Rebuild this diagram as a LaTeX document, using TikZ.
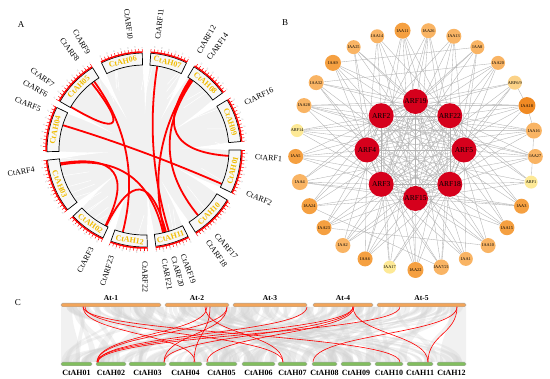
\documentclass[tikz,border=0pt]{standalone}
\usepackage{fontspec}
\setmainfont{Liberation Serif}
\usetikzlibrary{calc,backgrounds}
\definecolor{ahyellow}{RGB}{240,188,0}
\definecolor{linkred}{RGB}{255,0,0}
\definecolor{arfred}{RGB}{214,0,28}
\definecolor{oA}{RGB}{249,180,100}
\definecolor{oB}{RGB}{245,160,65}
\definecolor{oC}{RGB}{240,138,35}
\definecolor{oP}{RGB}{253,233,150}
\definecolor{oQ}{RGB}{251,210,135}
\definecolor{atorange}{RGB}{242,165,90}
\definecolor{ahgreen}{RGB}{130,190,95}
\newcommand\slsh{/}
\tikzset{
 boxst/.style={draw=black,line width=0.7pt,fill=gray!6},
 ahlab/.style={text=ahyellow,font=\bfseries\fontsize{8}{8}\selectfont,inner sep=0},
 tickln/.style={linkred,line width=0.5pt},
 ticklab/.style={text=gray!75,font=\fontsize{2}{2}\selectfont,inner sep=0,anchor=west},
 arflab/.style={font=\fontsize{8}{8}\selectfont,inner sep=0},
 redlink/.style={linkred,line width=1.8pt},
 arfnode/.style={circle,fill=arfred,minimum size=25pt,inner sep=0,font=\fontsize{7.5}{7.5}\selectfont},
 iaanode/.style={circle,inner sep=0,font=\fontsize{4.3}{4.3}\selectfont},
 netedge/.style={gray!60,line width=0.35pt},
 atbar/.style={fill=atorange,draw=gray!70,line width=0.4pt,rounded corners=1.5pt},
 ahbar/.style={fill=ahgreen,draw=gray!70,line width=0.4pt,rounded corners=1.5pt},
 atlab/.style={font=\bfseries\fontsize{7.5}{7.5}\selectfont,inner sep=0},
 ahblab/.style={font=\bfseries\fontsize{8}{8}\selectfont,inner sep=0},
 synred/.style={linkred,line width=0.6pt},
 ribbon/.style={fill=gray!35,fill opacity=0.3},
 panlab/.style={font=\fontsize{9}{9}\selectfont,inner sep=0},
}
% chromosome block: start angle, end angle, label, label rotation
\newcommand\chrblock[4]{%
  \draw[boxst] (#1:85) arc[start angle=#1,end angle=#2,radius=85] -- (#2:97) arc[start angle=#2,end angle=#1,radius=97] -- cycle;
  \draw[linkred,line width=1.5pt] (#1:98) arc[start angle=#1,end angle=#2,radius=98];
  \pgfmathsetmacro\chrnext{#1+2}%
  \foreach \tka in {#1,\chrnext,...,#2}{%
    \draw[tickln] (\tka:97.8) -- (\tka:101.2);
  }%
  \pgfmathsetmacro\chrnextb{#1+4}%
  \foreach \tka [count=\tkn from 0] in {#1,\chrnextb,...,#2}{%
    \pgfmathtruncatemacro\tknum{\tkn*10}%
    \node[ticklab,rotate=\tka] at (\tka:101.8) {\tknum};
  }%
  \node[ahlab,rotate=#4] at ({(#1+#2)/2}:91) {#3};
}
\newcommand\arfR[2]{\node[arflab,rotate=#1,anchor=west] at (#1:111) {#2};}
\newcommand\arfL[2]{\node[arflab,rotate=#1+180,anchor=east] at (#1:111) {#2};}
\newcommand\clink[2]{\draw[redlink] (#1:85) .. controls (#1:28.3) and (#2:28.3) .. (#2:85);}
\begin{document}
\begin{tikzpicture}[x=1pt,y=-1pt]
\useasboundingbox (0,0) rectangle (550,379);
\begin{pgfonlayer}{background}\fill[white] (0,0) rectangle (550,379);\end{pgfonlayer}
\node[panlab] (labA) at (21,25) {A};
\node[panlab] (labB) at (285,23) {B};
\node[panlab] (labC) at (18,303) {C};

% ---------------- Panel A ----------------
\begin{scope}[shift={(144,150)},y=1pt]
\fill[gray!11] (0,0) circle[radius=85];
\foreach \g in {2.5,33.5,61.5,88.5,119,152,183.5,220.5,247.5,274.5,299.5,331.5}{
  \fill[white] (\g-2.6:85.5) .. controls (\g-1:62) .. (\g:36) .. controls (\g+1:62) .. (\g+2.6:85.5) -- cycle;
}
\pgfmathsetseed{11}
\foreach \r in {1,...,40}{
  \pgfmathsetmacro\wa{rnd*360}
  \pgfmathsetmacro\wl{55+rnd*20}
  \draw[white,line width=0.5pt] (\wa:84) -- (\wa+4:\wl);
}
\clink{128}{149.5}
\clink{126}{255.5}
\clink{163}{336.4}
\clink{189}{243}
\clink{190}{283}
\clink{243.5}{285}
\clink{81}{287}
\clink{57}{356}
\clink{55}{309.6}
\clink{56}{284}
\chrblock{334}{360}{CtAH01}{77}
\chrblock{5}{31}{CtAH09}{-72}
\chrblock{36}{59}{CtAH08}{-42.5}
\chrblock{64}{86}{CtAH07}{-15}
\chrblock{91}{116}{CtAH06}{13.5}
\chrblock{122}{150}{CtAH05}{46}
\chrblock{154}{181}{CtAH04}{77.5}
\chrblock{186}{218}{CtAH03}{-68}
\chrblock{223}{245}{CtAH02}{-36}
\chrblock{250}{272}{CtAH12}{-9}
\chrblock{277}{297}{CtAH11}{17}
\chrblock{302}{329}{CtAH10}{45.5}
\arfR{83}{CtARF11}
\arfR{60.5}{CtARF12}
\arfR{54.5}{CtARF14}
\arfR{25}{CtARF16}
\arfR{-3.6}{CtARF1}
\arfR{-22.7}{CtARF2}
\arfR{-49.5}{CtARF17}
\arfR{-55}{CtARF18}
\arfR{-69.5}{CtARF19}
\arfR{-74.5}{CtARF20}
\arfR{-79.5}{CtARF21}
\arfR{-89.5}{CtARF22}
\arfL{97}{CtARF10}
\arfL{120}{CtARF9}
\arfL{126.5}{CtARF8}
\arfL{144.5}{CtARF7}
\arfL{150.5}{CtARF6}
\arfL{158.6}{CtARF5}
\arfL{190}{CtARF4}
\arfL{242}{CtARF3}
\arfL{253}{CtARF23}
\end{scope}

% ---------------- Panel B ----------------
\begin{scope}[shift={(415.5,150)},y=1pt]
\foreach \ang/\lab [count=\i from 0] in {90/ARF19,45/ARF22,0/ARF5,-45/ARF18,-90/ARF15,-135/ARF3,180/ARF4,135/ARF2}
  \node[arfnode] (i\i) at (\ang:48.5) {\lab};
\foreach \lab/\col/\sz [count=\k from 0] in {IAA11/oB/16,IAA26/oA/15,IAA13/oA/15,IAA8/oA/14,IAA20/oA/14,ARF6\slsh9/oQ/14,IAA18/oC/17,IAA16/oA/16,IAA27/oA/15,ARF1/oP/13,IAA3/oB/15,IAA15/oB/15,IAA10/oA/15,IAA1/oA/14,IAA7\slsh21/oA/14,IAA22/oB/16,IAA17/oP/13,IAA6/oB/15,IAA2/oA/15,IAA23/oB/15,IAA24/oB/16,IAA4/oA/16,IAA5/oB/15,ARF14/oP/13,IAA28/oA/15,IAA32/oA/15,IAA9/oB/16,IAA25/oA/14,IAA14/oA/14}{
  \pgfmathsetmacro\oang{96.2-12.414*\k}
  \node[iaanode,fill=\col,minimum size=\sz pt] (o\k) at (\oang:120) {\lab};
}
\end{scope}
\begin{pgfonlayer}{background}
\foreach \a in {0,...,6}{
  \pgfmathtruncatemacro\bs{\a+1}
  \foreach \b in {\bs,...,7}{\draw[netedge] (i\a) -- (i\b);}
}
\foreach \k in {0,...,28}{
  \foreach \d in {0,2,3,5,7}{
    \pgfmathtruncatemacro\j{mod(\k+\d,8)}
    \draw[netedge] (o\k) -- (i\j);
  }
}
\foreach \p/\q in {5/6,6/7,7/9,24/6,23/7,22/8,21/10,4/25,1/17,3/26,12/19,14/20,0/15,8/24}
  \draw[netedge] (o\p) -- (o\q);
\end{pgfonlayer}

% ---------------- Panel C ----------------
\pgfmathsetseed{5}
\foreach \r in {1,...,140}{
  \pgfmathsetmacro\ta{61+rnd*398}
  \pgfmathsetmacro\tw{2+rnd*7}
  \pgfmathsetmacro\ba{61+rnd*398}
  \pgfmathsetmacro\bw{2+rnd*7}
  \fill[ribbon] (\ta,307) .. controls (\ta,334) and (\ba,334) .. (\ba,362) -- ({\ba+\bw},362) .. controls ({\ba+\bw},334) and ({\ta+\tw},334) .. ({\ta+\tw},307) -- cycle;
}
\fill[ribbon] (61,307) .. controls (61,334) and (61,334) .. (61,362) -- (80,362) .. controls (80,334) and (72,334) .. (72,307) -- cycle;
\fill[ribbon] (450,307) .. controls (450,334) and (440,334) .. (440,362) -- (466,362) .. controls (466,334) and (466,334) .. (466,307) -- cycle;
\foreach \a/\b/\lab [count=\n] in {61/161/At-1,165/229/At-2,233/307/At-3,313/373/At-4,377/466/At-5}{
  \draw[atbar] (\a,303.2) rectangle (\b,306.8);
  \node[atlab] (atl\n) at ({(\a+\b)/2},298.5) {\lab};
}
\foreach \a/\b/\lab [count=\n] in {61/92/CtAH01,96/126/CtAH02,129/166/CtAH03,169/202/CtAH04,206/237/CtAH05,242/275/CtAH06,278/307/CtAH07,312/337/CtAH08,341/371/CtAH09,375/403/CtAH10,407/433/CtAH11,437/466/CtAH12}{
  \draw[ahbar] (\a,362.2) rectangle (\b,365.8);
  \node[ahblab] (ahl\n) at ({(\a+\b)/2},372.5) {\lab};
}
\foreach \u/\v in {83/195,83/400,85/283,205/283,207/97,210/194,227/97,227/164,307/98,353/97,353/164,354/207,353/428,400/98,457/313,457/428}
  \draw[synred] (\u,306.8) .. controls (\u,334) and (\v,334) .. (\v,362.2);
\end{tikzpicture}
\end{document}
